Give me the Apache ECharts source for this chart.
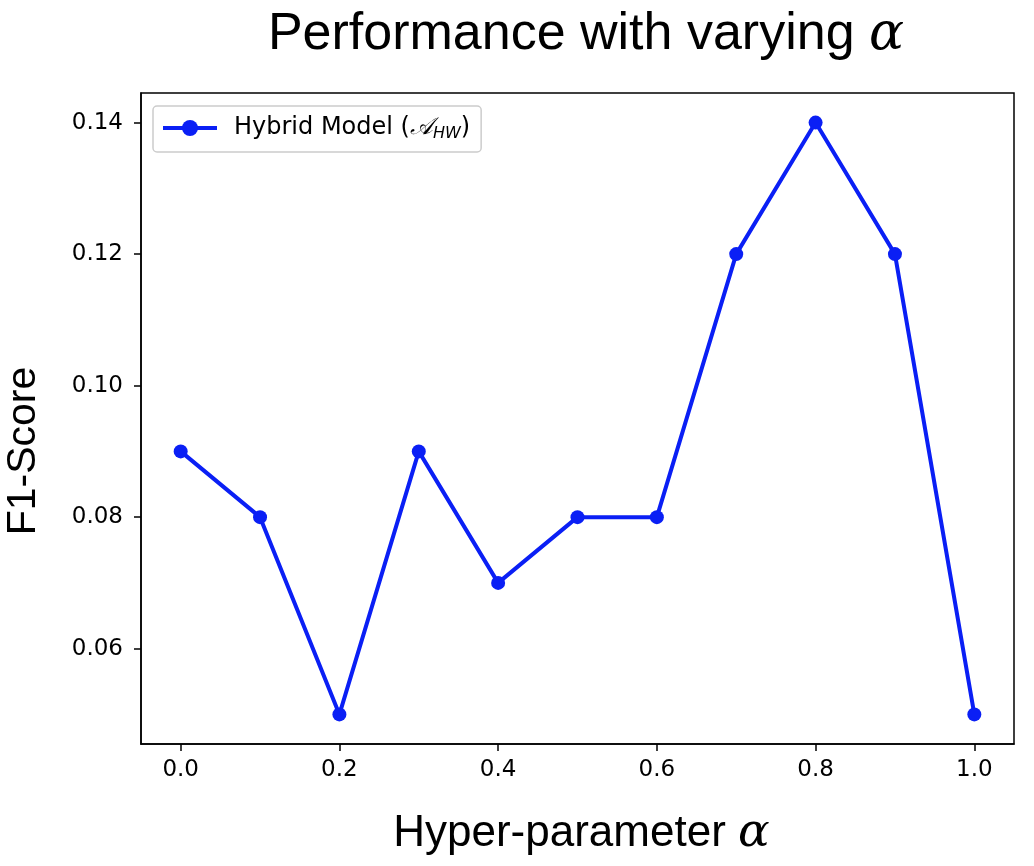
<!DOCTYPE html>
<html>
<head>
<meta charset="utf-8">
<script src="https://cdn.jsdelivr.net/npm/echarts@6/dist/echarts.min.js"></script>
<style>
  html, body { margin: 0; padding: 0; background: #fff; }
  #chart { width: 1034px; height: 866px; }
</style>
</head>
<body>
<div id="chart"></div>
<script>
// data
const alphaValues = [0.0, 0.1, 0.2, 0.3, 0.4, 0.5, 0.6, 0.7, 0.8, 0.9, 1.0];
const f1Scores = [0.09, 0.08, 0.05, 0.09, 0.07, 0.08, 0.08, 0.12, 0.14, 0.12, 0.05];
const xTicks = [0.0, 0.2, 0.4, 0.6, 0.8, 1.0];
const yTicks = [0.06, 0.08, 0.10, 0.12, 0.14];

const lineColor = '#0a1ff5';
const tickFont = 'DejaVu Sans';
const bigFont = 'Liberation Sans';

const chart = echarts.init(document.getElementById('chart'));

chart.setOption({
    animation: false,
    title: {
        text: 'Performance with varying {a|α}',
        left: 581,
        top: 4,
        textAlign: 'center',
        textStyle: {
            fontFamily: bigFont,
            fontSize: 52,
            fontWeight: 'normal',
            color: '#000',
            rich: {
                a: { fontFamily: 'DejaVu Serif', fontStyle: 'italic', fontSize: 52, color: '#000' }
            }
        }
    },
    // y axis title sits a bit below the middle in the reference
    graphic: [{
        type: 'text',
        x: 24,
        y: 451,
        rotation: Math.PI / 2,
        style: {
            text: 'F1-Score',
            fontFamily: bigFont,
            fontSize: 41,
            fill: '#000',
            align: 'center',
            verticalAlign: 'middle'
        }
    }],
    legend: {
        left: 153,
        top: 106,
        orient: 'vertical',
        itemWidth: 54,
        itemHeight: 20,
        itemGap: 8,
        padding: [10, 11, 10, 8],
        borderColor: '#cccccc',
        borderWidth: 1.5,
        borderRadius: 4,
        backgroundColor: '#fff',
        lineStyle: { width: 4 },
        textStyle: {
            fontFamily: tickFont,
            fontSize: 24,
            color: '#000',
            rich: {
                t: { fontFamily: tickFont, fontSize: 24, color: '#000', padding: [0, 0, 0, 12] },
                m: { fontFamily: 'DejaVu Serif', fontStyle: 'italic', fontSize: 24, color: '#000' },
                s: { fontFamily: tickFont, fontStyle: 'italic', fontSize: 16, color: '#000', verticalAlign: 'bottom', padding: [12, 0, 0, 0] },
                c: { fontFamily: tickFont, fontSize: 24, color: '#000' }
            }
        },
        formatter: () => '{t|Hybrid Model (}{m|𝒜}{s|HW}{c|)}',
        data: ['Hybrid Model']
    },
    grid: {
        left: 141,
        right: 20,
        top: 93,
        bottom: 122,
        outerBoundsMode: 'none',
        containLabel: false,
        show: true,
        borderColor: '#000',
        borderWidth: 1.5,
        backgroundColor: 'transparent'
    },
    xAxis: {
        type: 'value',
        min: -0.05,
        max: 1.05,
        name: 'Hyper-parameter {a|α}',
        nameLocation: 'middle',
        nameGap: 66,
        nameTextStyle: {
            fontFamily: bigFont,
            fontSize: 44,
            color: '#000',
            padding: [0, 0, 0, 8],
            rich: {
                a: { fontFamily: 'DejaVu Serif', fontStyle: 'italic', fontSize: 47, color: '#000' }
            }
        },
        splitLine: { show: false },
        axisLine: { show: true, onZero: false, lineStyle: { color: '#000', width: 1.5 } },
        axisTick: { show: true, length: 7, customValues: xTicks, lineStyle: { color: '#000', width: 1.5 } },
        axisLabel: {
            customValues: xTicks,
            margin: 15,
            fontFamily: tickFont,
            fontSize: 23,
            color: '#000',
            formatter: v => v.toFixed(1)
        }
    },
    yAxis: {
        type: 'value',
        min: 0.0455,
        max: 0.1445,
        splitLine: { show: false },
        axisLine: { show: true, onZero: false, lineStyle: { color: '#000', width: 1.5 } },
        axisTick: { show: true, length: 7, customValues: yTicks, lineStyle: { color: '#000', width: 1.5 } },
        axisLabel: {
            customValues: yTicks,
            margin: 18,
            fontFamily: tickFont,
            fontSize: 23,
            color: '#000',
            formatter: v => v.toFixed(2)
        }
    },
    series: [{
        name: 'Hybrid Model',
        type: 'line',
        data: alphaValues.map((a, i) => [a, f1Scores[i]]),
        symbol: 'circle',
        symbolSize: 14,
        itemStyle: { color: lineColor },
        lineStyle: { color: lineColor, width: 4 }
    }]
});
</script>
</body>
</html>
